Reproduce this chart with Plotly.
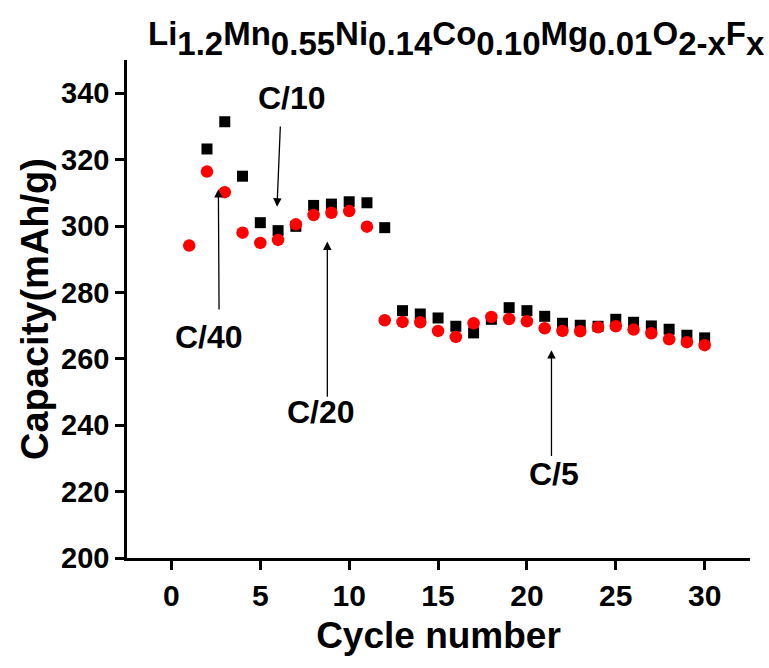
import plotly.graph_objects as go

# ---- data ----
cycles_charge = list(range(2, 31))
charge_capacity = [323.2, 331.4, 315.0, 301.0, 298.6, 299.9, 306.2, 306.6, 307.3, 307.0,
                   299.5, 274.5, 273.5, 272.3, 269.8, 267.8, 271.9, 275.4, 274.5, 272.8,
                   270.7, 270.1, 269.8, 271.9, 271.0, 269.9, 268.9, 267.1, 266.3]

cycles_discharge = list(range(1, 31))
discharge_capacity = [294.1, 316.4, 310.2, 298.0, 294.9, 295.8, 300.5, 303.3, 304.0, 304.5,
                      299.8, 271.6, 271.1, 271.0, 268.4, 266.6, 270.7, 272.6, 272.0, 271.3,
                      269.2, 268.4, 268.3, 269.5, 269.8, 268.8, 267.7, 265.9, 265.0, 264.1]

x_ticks = [0, 5, 10, 15, 20, 25, 30]
y_ticks = [200, 220, 240, 260, 280, 300, 320, 340]

# rate labels: (text, label x, label y, arrow tail x, tail y, head x, head y)
rate_labels = ["C/10", "C/40", "C/20", "C/5"]
label_x = [6.81, 2.09, 8.39, 21.55]
label_y = [338.6, 266.7, 244.1, 225.4]
arrow_tail_x = [6.13, 2.68, 8.77, 21.38]
arrow_tail_y = [330.4, 274.4, 248.1, 230.3]
arrow_head_x = [5.94, 2.64, 8.77, 21.38]
arrow_head_y = [305.8, 311.1, 295.3, 262.6]

FONT = "Liberation Sans, Arial, sans-serif"

fig = go.Figure()
fig.add_trace(go.Scatter(x=cycles_charge, y=charge_capacity, mode="markers",
                         marker=dict(symbol="square", size=11, color="black"),
                         showlegend=False))
fig.add_trace(go.Scatter(x=cycles_discharge, y=discharge_capacity, mode="markers",
                         marker=dict(symbol="circle", size=12.5, color="red"),
                         showlegend=False))

annotations = []
for t, lx, ly, tx, ty, hx, hy in zip(rate_labels, label_x, label_y,
                                      arrow_tail_x, arrow_tail_y, arrow_head_x, arrow_head_y):
    annotations.append(dict(x=hx, y=hy, ax=tx, ay=ty, xref="x", yref="y", axref="x", ayref="y",
                            text="", showarrow=True, arrowhead=2, arrowsize=1.3, arrowwidth=1.3,
                            arrowcolor="black"))
    annotations.append(dict(x=lx, y=ly, xref="x", yref="y", text=t, showarrow=False,
                            xanchor="center", yanchor="middle",
                            font=dict(family=FONT, size=32, color="black", weight="bold")))

parts = [("Li", "1.2"), ("Mn", "0.55"), ("Ni", "0.14"), ("Co", "0.10"),
         ("Mg", "0.01"), ("O", "2-x"), ("F", "x")]
title_text = "".join(
    "<span style='font-size:33px'>%s</span><sub><span style='font-size:33px'>%s</span></sub>" % (a, b)
    for a, b in parts)

fig.update_layout(
    width=769, height=668,
    margin=dict(l=127, r=19, t=60, b=110),
    plot_bgcolor="white", paper_bgcolor="white",
    font=dict(family=FONT, color="black"),
    title=dict(text=title_text, xref="container", yref="container",
               x=148 / 769, xanchor="left", y=1 - 29 / 668, yanchor="middle",
               font=dict(family=FONT, size=47, color="black", weight="bold")),
    annotations=annotations,
    xaxis=dict(range=[-2.5, 32.55], tickvals=x_ticks, showgrid=False, zeroline=False,
               showline=True, linecolor="black", linewidth=2.6,
               ticks="outside", ticklen=9, tickwidth=2.6, tickcolor="black",
               tickfont=dict(family=FONT, size=30, color="black", weight="bold"),
               title=dict(text="Cycle number", standoff=12,
                          font=dict(family=FONT, size=37, color="black", weight="bold"))),
    yaxis=dict(range=[200, 350], tickvals=y_ticks, showgrid=False, zeroline=False,
               showline=True, linecolor="black", linewidth=2.6,
               ticks="outside", ticklen=9, tickwidth=2.6, tickcolor="black",
               tickfont=dict(family=FONT, size=29, color="black", weight="bold"),
               title=dict(text="Capacity(mAh/g)", standoff=1,
                          font=dict(family=FONT, size=38, color="black", weight="bold"))),
)

fig.write_html("out.html")
